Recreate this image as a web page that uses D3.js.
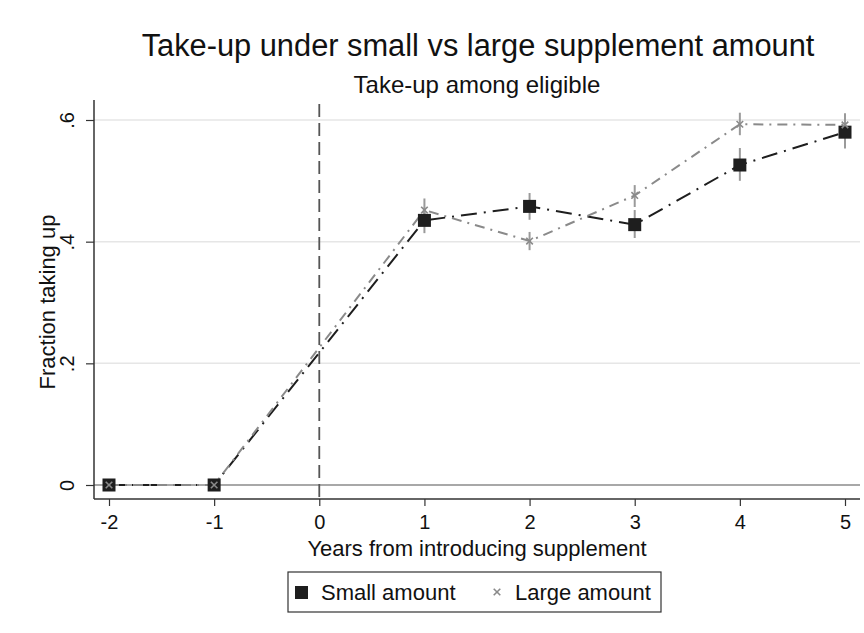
<!DOCTYPE html>
<html>
<head>
<meta charset="utf-8">
<script src="https://cdn.jsdelivr.net/npm/d3@7"></script>
<style>
  body { margin: 0; background: #fff; }
  text { font-family: "Liberation Sans", Arial, sans-serif; fill: #111; }
</style>
</head>
<body>
<div id="vis"></div>
<script>
// data
var years = [-2, -1, 1, 2, 3, 4, 5];
var smallVals = [0, 0, 0.435, 0.458, 0.428, 0.526, 0.580];
var smallLo = [0, 0, 0.414, 0.436, 0.406, 0.500, 0.553];
var smallHi = [0, 0, 0.456, 0.480, 0.452, 0.554, 0.607];
var largeVals = [0, 0, 0.452, 0.401, 0.476, 0.593, 0.592];
var largeLo = [0, 0, 0.432, 0.386, 0.457, 0.575, 0.574];
var largeHi = [0, 0, 0.471, 0.416, 0.493, 0.612, 0.611];
var xTicks = [-2, -1, 0, 1, 2, 3, 4, 5];
var yTicks = [0, 0.2, 0.4, 0.6];
var yTickLabels = ['0', '.2', '.4', '.6'];
var seriesNames = ['Small amount', 'Large amount'];

var width = 864;
var height = 633;
// plot region
var plot = {left: 94, right: 860, top: 100, bottom: 499};

var svg = d3.select('#vis').append('svg')
  .attr('width', width)
  .attr('height', height);

svg.append('rect')
  .attr('width', width).attr('height', height)
  .attr('fill', '#fff');

var x = d3.scaleLinear().domain([-2, 5]).range([109, 845]);
var y = d3.scaleLinear().domain([0, 0.6]).range([485, 120]);

// gridlines
svg.append('g').selectAll('line')
  .data(yTicks.filter(function(d) { return d !== 0; }))
  .enter().append('line')
  .attr('x1', plot.left).attr('x2', plot.right)
  .attr('y1', function(d) { return y(d); })
  .attr('y2', function(d) { return y(d); })
  .attr('stroke', '#e6e6e6')
  .attr('stroke-width', 1.5);

// zero line
svg.append('line')
  .attr('x1', plot.left).attr('x2', plot.right)
  .attr('y1', y(0)).attr('y2', y(0))
  .attr('stroke', '#a8a8a8')
  .attr('stroke-width', 2);

// x axis
var xAxis = d3.axisBottom(x)
  .tickValues(xTicks)
  .tickSize(7)
  .tickPadding(9)
  .tickFormat(function(d) { return String(d); });
var gx = svg.append('g')
  .attr('transform', 'translate(0,' + plot.bottom + ')')
  .call(xAxis);
gx.select('.domain').remove();
gx.selectAll('line').attr('stroke', '#333').attr('stroke-width', 1.2);
gx.selectAll('text')
  .style('font-family', '"Liberation Sans", Arial, sans-serif')
  .style('font-size', '20px')
  .attr('fill', '#111');

// y axis
var yAxis = d3.axisLeft(y)
  .tickValues(yTicks)
  .tickSize(8)
  .tickFormat(function(d, i) { return yTickLabels[i]; });
var gy = svg.append('g')
  .attr('transform', 'translate(' + plot.left + ',0)')
  .call(yAxis);
gy.select('.domain').remove();
gy.selectAll('line').attr('stroke', '#333').attr('stroke-width', 1.2);
gy.selectAll('text')
  .attr('x', null).attr('dy', null)
  .attr('transform', 'translate(-27,0) rotate(-90)')
  .attr('text-anchor', 'middle')
  .attr('dominant-baseline', 'central')
  .style('font-family', '"Liberation Sans", Arial, sans-serif')
  .style('font-size', '20px')
  .attr('fill', '#111');

// axis lines
svg.append('line')
  .attr('x1', plot.left).attr('x2', plot.left)
  .attr('y1', plot.top).attr('y2', plot.bottom)
  .attr('stroke', '#333').attr('stroke-width', 1.5);
svg.append('line')
  .attr('x1', plot.left).attr('x2', plot.right)
  .attr('y1', plot.bottom).attr('y2', plot.bottom)
  .attr('stroke', '#333').attr('stroke-width', 1.5);

// vertical dashed line at 0
svg.append('line')
  .attr('x1', x(0)).attr('x2', x(0))
  .attr('y1', plot.top + 4).attr('y2', plot.bottom)
  .attr('stroke', '#555')
  .attr('stroke-width', 1.8)
  .attr('stroke-dasharray', '13,6');

var smallData = years.map(function(d, i) {
  return {year: d, v: smallVals[i], lo: smallLo[i], hi: smallHi[i]};
});
var largeData = years.map(function(d, i) {
  return {year: d, v: largeVals[i], lo: largeLo[i], hi: largeHi[i]};
});

var line = d3.line()
  .x(function(d) { return x(d.year); })
  .y(function(d) { return y(d.v); });

svg.append('path')
  .datum(smallData)
  .attr('fill', 'none')
  .attr('stroke', '#1e1e1e')
  .attr('stroke-width', 2)
  .attr('stroke-dasharray', '16,7,2,7')
  .attr('d', line);

svg.append('path')
  .datum(largeData)
  .attr('fill', 'none')
  .attr('stroke', '#8a8a8a')
  .attr('stroke-width', 2)
  .attr('stroke-dasharray', '10,6,2,6')
  .attr('d', line);

// confidence intervals
[smallData, largeData].forEach(function(data) {
  svg.append('g').selectAll('line')
    .data(data)
    .enter().append('line')
    .attr('x1', function(d) { return x(d.year); })
    .attr('x2', function(d) { return x(d.year); })
    .attr('y1', function(d) { return y(d.lo); })
    .attr('y2', function(d) { return y(d.hi); })
    .attr('stroke', '#9a9a9a')
    .attr('stroke-width', 2);
});

// markers
var sq = 13;
svg.append('g').selectAll('rect')
  .data(smallData)
  .enter().append('rect')
  .attr('x', function(d) { return x(d.year) - sq / 2; })
  .attr('y', function(d) { return y(d.v) - sq / 2; })
  .attr('width', sq).attr('height', sq)
  .attr('fill', '#1e1e1e');

var cross = d3.symbol().type(d3.symbolX).size(30);
svg.append('g').selectAll('path')
  .data(largeData)
  .enter().append('path')
  .attr('transform', function(d) { return 'translate(' + x(d.year) + ',' + y(d.v) + ')'; })
  .attr('d', cross)
  .attr('fill', 'none')
  .attr('stroke', '#8a8a8a')
  .attr('stroke-width', 1.6);

// titles
svg.append('text')
  .attr('x', 478).attr('y', 56)
  .attr('text-anchor', 'middle')
  .style('font-size', '30.8px')
  .text('Take-up under small vs large supplement amount');

svg.append('text')
  .attr('x', 477).attr('y', 93)
  .attr('text-anchor', 'middle')
  .style('font-size', '24px')
  .text('Take-up among eligible');

svg.append('text')
  .attr('x', 477).attr('y', 556)
  .attr('text-anchor', 'middle')
  .style('font-size', '22px')
  .text('Years from introducing supplement');

svg.append('text')
  .attr('transform', 'translate(55,302) rotate(-90)')
  .attr('text-anchor', 'middle')
  .style('font-size', '22px')
  .text('Fraction taking up');

// legend
var legend = svg.append('g');
legend.append('rect')
  .attr('x', 288).attr('y', 572)
  .attr('width', 373).attr('height', 40)
  .attr('fill', '#fff')
  .attr('stroke', '#333')
  .attr('stroke-width', 1.2);
legend.append('rect')
  .attr('x', 295).attr('y', 586)
  .attr('width', sq).attr('height', sq)
  .attr('fill', '#1e1e1e');
legend.append('text')
  .attr('x', 321).attr('y', 600)
  .style('font-size', '22px')
  .text(seriesNames[0]);
legend.append('path')
  .attr('transform', 'translate(497,592)')
  .attr('d', cross)
  .attr('fill', 'none')
  .attr('stroke', '#8a8a8a')
  .attr('stroke-width', 1.6);
legend.append('text')
  .attr('x', 515).attr('y', 600)
  .style('font-size', '22px')
  .text(seriesNames[1]);
</script>
</body>
</html>
